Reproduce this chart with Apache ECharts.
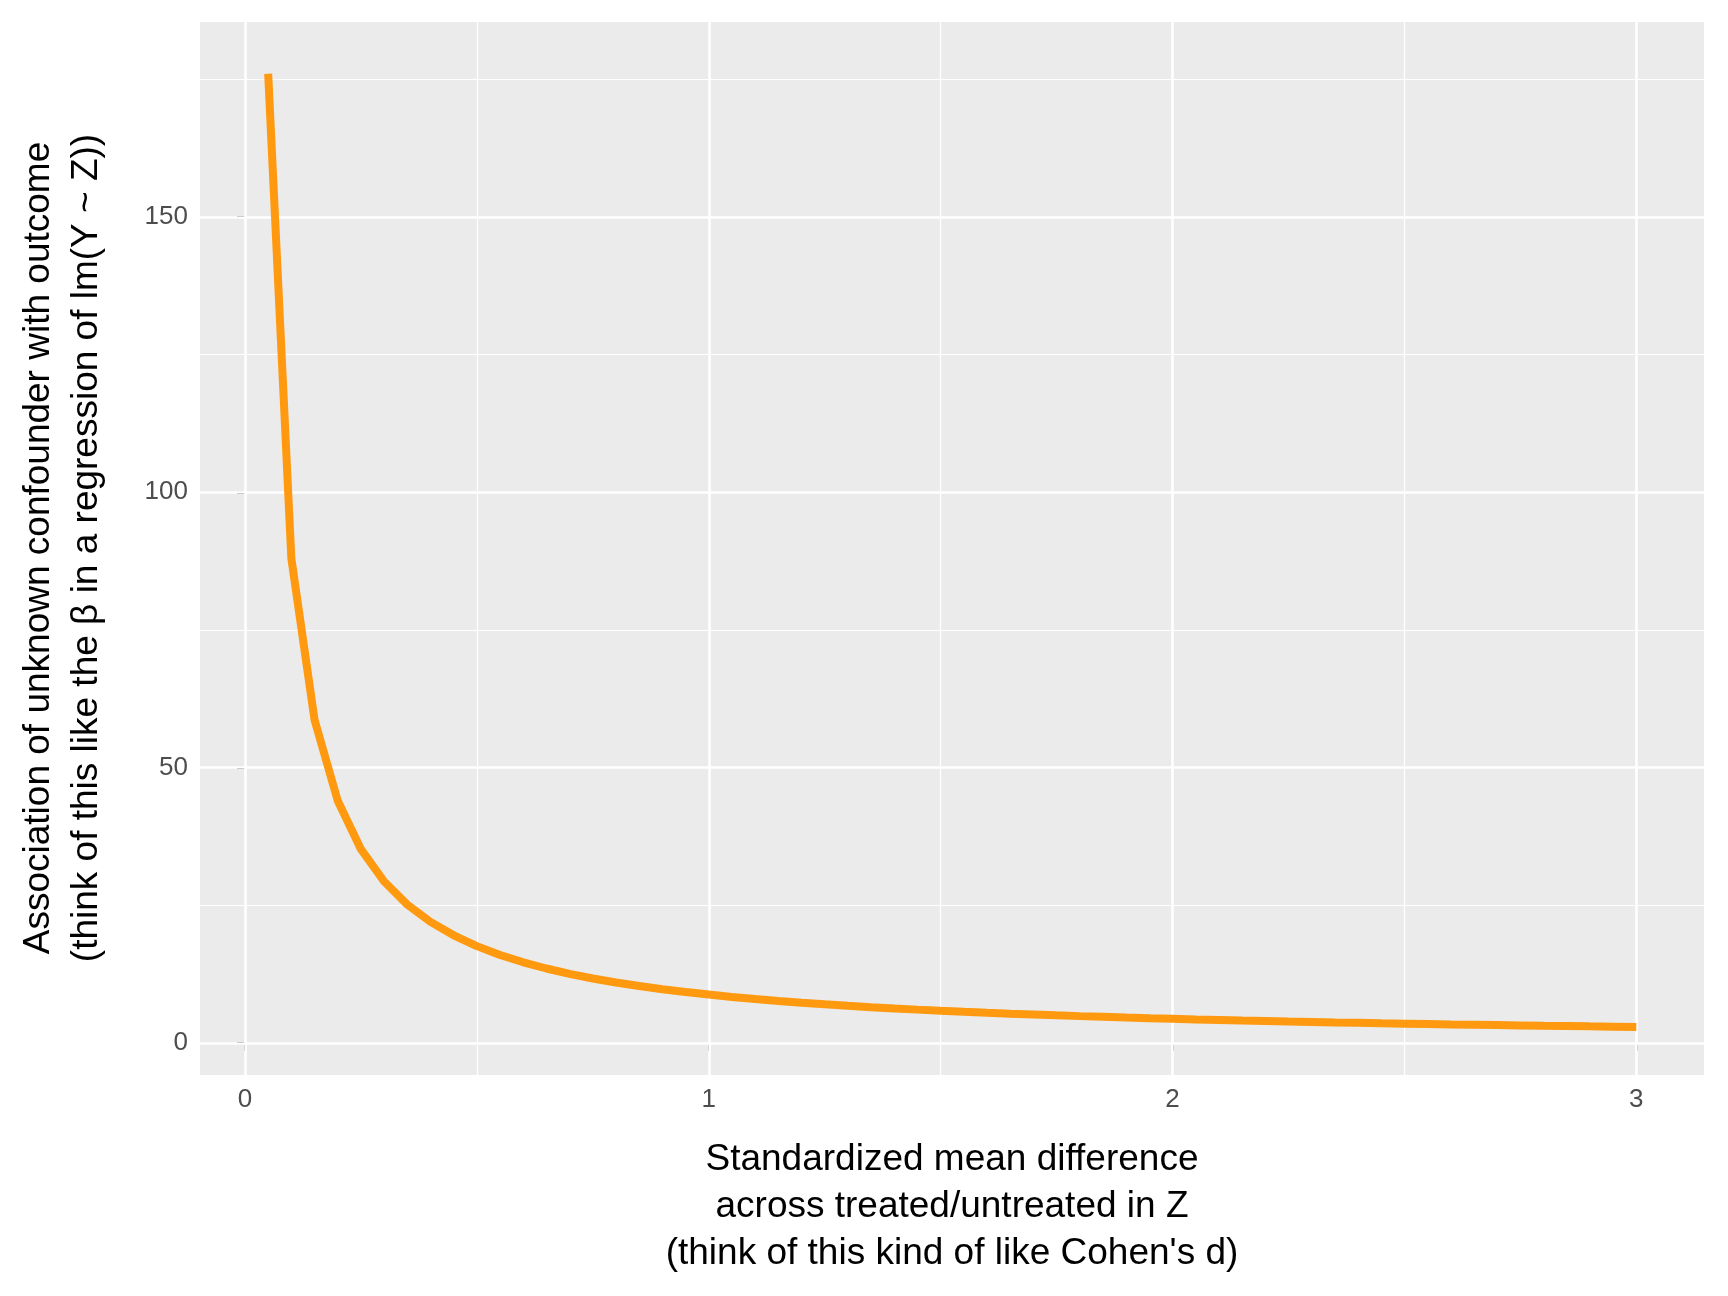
<!DOCTYPE html>
<html><head><meta charset="utf-8">
<script src="https://cdn.jsdelivr.net/npm/echarts@6/dist/echarts.min.js"></script>
<style>html,body{margin:0;padding:0;background:#fff}#main{width:1728px;height:1296px}</style>
</head><body><div id="main"></div>
<script>
var smd = [0.05,0.1,0.15,0.2,0.25,0.3,0.35,0.4,0.45,0.5,0.55,0.6,0.65,0.7,0.75,0.8,0.85,0.9,0.95,1,
  1.05,1.1,1.15,1.2,1.25,1.3,1.35,1.4,1.45,1.5,1.55,1.6,1.65,1.7,1.75,1.8,1.85,1.9,1.95,2,
  2.05,2.1,2.15,2.2,2.25,2.3,2.35,2.4,2.45,2.5,2.55,2.6,2.65,2.7,2.75,2.8,2.85,2.9,2.95,3];
var assoc = [176,88,58.67,44,35.2,29.33,25.14,22,19.56,17.6,16,14.67,13.54,12.57,11.73,11,10.35,9.78,9.26,8.8,
  8.38,8,7.65,7.33,7.04,6.77,6.52,6.29,6.07,5.87,5.68,5.5,5.33,5.18,5.03,4.89,4.76,4.63,4.51,4.4,
  4.29,4.19,4.09,4,3.91,3.83,3.74,3.67,3.59,3.52,3.45,3.38,3.32,3.26,3.2,3.14,3.09,3.03,2.98,2.93];
var xMajor = [0,1,2,3], xMinor = [0.5,1.5,2.5];
var yMajor = [0,50,100,150], yMinor = [25,75,125,175];

var chart = echarts.init(document.getElementById('main'));
var grid = [];
xMinor.forEach(function(v){grid.push({xAxis:v,lineStyle:{width:1.2}});});
yMinor.forEach(function(v){grid.push({yAxis:v,lineStyle:{width:1.2}});});
xMajor.forEach(function(v){grid.push({xAxis:v,lineStyle:{width:2.6}});});
yMajor.forEach(function(v){grid.push({yAxis:v,lineStyle:{width:2.6}});});
var lab = {color:'#4d4d4d',fontSize:26,fontFamily:'Liberation Sans, Arial'};
chart.setOption({
  animation:false,
  grid:{left:200,top:22,width:1504,height:1053,show:true,backgroundColor:'#ebebeb',borderWidth:0},
  xAxis:{type:'value',min:-0.097,max:3.146,
    axisLine:{show:false},splitLine:{show:false},
    axisTick:{show:true,length:8,customValues:xMajor,lineStyle:{color:'#333',width:2}},
    axisLabel:Object.assign({customValues:xMajor,margin:12},lab)},
  yAxis:{type:'value',min:-5.8,max:185.4,
    axisLine:{show:false},splitLine:{show:false},
    axisTick:{show:true,length:8,customValues:yMajor,lineStyle:{color:'#333',width:2}},
    axisLabel:Object.assign({customValues:yMajor,margin:12},lab)},
  series:[{type:'line',data:[],markLine:{silent:true,symbol:'none',label:{show:false},
      lineStyle:{color:'#fff',type:'solid'},data:grid}},
    {type:'line',data:smd.map(function(x,i){return [x,assoc[i]];}),showSymbol:false,
      lineStyle:{color:'#ff990f',width:8},z:5}],
  graphic:[
    {type:'text',x:952,y:1136,style:{x:0,y:0,text:'Standardized mean difference\nacross treated/untreated in Z\n(think of this kind of like Cohen\'s d)',
      align:'center',fill:'#000',fontSize:37,lineHeight:47,fontFamily:'Liberation Sans, Arial'}},
    {type:'text',x:63,y:548,rotation:Math.PI/2,style:{x:0,y:0,text:'Association of unknown confounder with outcome\n(think of this like the β in a regression of lm(Y ~ Z))',
      align:'center',verticalAlign:'middle',fill:'#000',fontSize:37,lineHeight:48,fontFamily:'Liberation Sans, Arial'}}
  ]
});
</script></body></html>
